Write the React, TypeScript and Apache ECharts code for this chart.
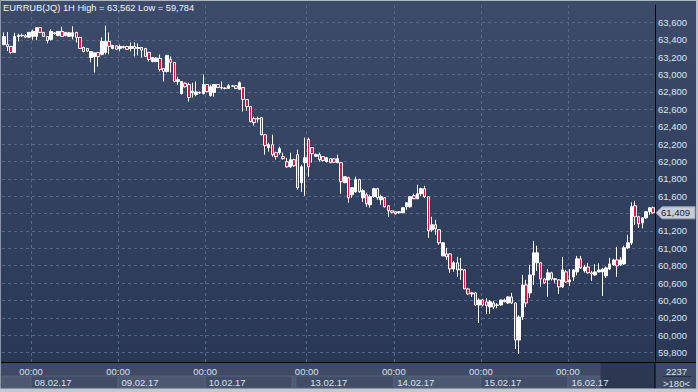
import React, { useEffect, useRef } from 'react';
import * as echarts from 'echarts';

const TITLE = 'EURRUB(JQ) 1H High = 63,562 Low = 59,784';

const sessions = [
  { date: '07.02.17', firstHour: 16, hours: 8 },
  { date: '08.02.17', firstHour: 0, hours: 24 },
  { date: '09.02.17', firstHour: 0, hours: 24 },
  { date: '10.02.17', firstHour: 0, hours: 24 },
  { date: '12.02.17', firstHour: 20, hours: 4 },
  { date: '13.02.17', firstHour: 0, hours: 24 },
  { date: '14.02.17', firstHour: 0, hours: 24 },
  { date: '15.02.17', firstHour: 0, hours: 24 },
  { date: '16.02.17', firstHour: 0, hours: 24 },
];

const categories: string[] = sessions.flatMap((s) =>
  Array.from({ length: s.hours }, (_, h) => `${s.date} ${String(s.firstHour + h).padStart(2, '0')}:00`)
);

// date strip of the time bar (category index ranges)
const dateStrip = [
  { from: 0, to: 8, label: '', light: true },
  { from: 8, to: 32, label: '08.02.17', light: false },
  { from: 32, to: 56, label: '09.02.17', light: true },
  { from: 56, to: 80, label: '10.02.17', light: false },
  { from: 80, to: 81, label: '', light: true },
  { from: 81, to: 108, label: '13.02.17', light: false },
  { from: 108, to: 132, label: '14.02.17', light: true },
  { from: 132, to: 156, label: '15.02.17', light: false },
  { from: 156, to: 165, label: '16.02.17', light: true },
];
const futureFrom = 165;
const barCountText = '2237';
const barRangeText = '>180<';

const opens = [
  63346, 63346, 63323, 63254, 63438, 63450, 63445, 63430, 63440, 63440,
  63540, 63485, 63438, 63404, 63480, 63450, 63496, 63450, 63440, 63440,
  63485, 63427, 63312, 63300, 63196, 63205, 63254, 63231, 63254, 63381,
  63300, 63330, 63300, 63323, 63323, 63300, 63323, 63300, 63312, 63300,
  63254, 63150, 63150, 63185, 63069, 63035, 63173, 63139, 62920, 62781,
  62900, 62885, 62790, 62770, 62795, 62781, 62885, 62760, 62793, 62885,
  62850, 62845, 62840, 62870, 62870, 62830, 62850, 62712, 62631, 62493,
  62490, 62504, 62308, 62159, 62193, 62101, 62101, 62055, 61997, 61939,
  62020, 62078, 61755, 61986, 62251, 62159, 62060, 62078, 62055, 61997,
  62032, 62030, 61986, 61986, 61755, 61813, 61617, 61651, 61790, 61582,
  61617, 61501, 61594, 61686, 61559, 61582, 61490, 61432, 61421, 61410,
  61409, 61478, 61478, 61605, 61571, 61628, 61686, 61594, 61213, 61271,
  61213, 60913, 60936, 60936, 60763, 60833, 60752, 60752, 60533, 60475,
  60487, 60348, 60406, 60385, 60325, 60371, 60348, 60348, 60385, 60371,
  60441, 60371, 59945, 60210, 60579, 60487, 60694, 60833, 60833, 60648,
  60637, 60718, 60650, 60637, 60556, 60729, 60613, 60671, 60729, 60879,
  60740, 60785, 60718, 60694, 60729, 60729, 60683, 60763, 60810, 60867,
  60810, 60821, 61006, 61063, 61490, 61363, 61294, 61351, 61421, 61467,
];
const closes = [
  63438, 63323, 63254, 63438, 63450, 63445, 63430, 63485, 63496, 63540,
  63485, 63438, 63392, 63496, 63470, 63496, 63438, 63485, 63480, 63480,
  63427, 63300, 63265, 63270, 63265, 63250, 63208, 63381, 63381, 63323,
  63335, 63290, 63323, 63310, 63290, 63323, 63300, 63310, 63280, 63208,
  63173, 63196, 63190, 63058, 63035, 63220, 63139, 62920, 62940, 62920,
  62860, 62735, 62810, 62800, 62790, 62885, 62804, 62860, 62885, 62850,
  62845, 62840, 62870, 62865, 62840, 62905, 62712, 62631, 62458, 62447,
  62495, 62308, 62182, 62193, 62078, 62055, 62147, 62032, 61939, 62020,
  61950, 61697, 61939, 62043, 61939, 62089, 62078, 62020, 62010, 62043,
  61986, 61990, 62032, 61767, 61824, 61582, 61697, 61790, 61651, 61663,
  61513, 61594, 61686, 61582, 61594, 61478, 61432, 61415, 61398, 61421,
  61467, 61524, 61594, 61571, 61628, 61686, 61594, 61202, 61271, 61225,
  61063, 61063, 60902, 60763, 60833, 60752, 60760, 60533, 60475, 60487,
  60348, 60406, 60348, 60340, 60385, 60325, 60345, 60406, 60406, 60441,
  60371, 59945, 60210, 60579, 60371, 60694, 60948, 60948, 60648, 60602,
  60718, 60648, 60640, 60556, 60752, 60613, 60637, 60752, 60879, 60775,
  60785, 60718, 60705, 60729, 60752, 60763, 60775, 60821, 60867, 60798,
  60867, 61006, 61063, 61478, 61363, 61282, 61351, 61421, 61467, 61409,
];
const lows = [
  63335, 63270, 63240, 63250, 63380, 63430, 63420, 63420, 63400, 63395,
  63480, 63430, 63358, 63392, 63460, 63440, 63430, 63440, 63435, 63404,
  63369, 63295, 63255, 63260, 63139, 63023, 63090, 63220, 63231, 63231,
  63290, 63280, 63265, 63300, 63285, 63265, 63208, 63220, 63196, 63200,
  63150, 63140, 63140, 63035, 62920, 63023, 63023, 62910, 62880, 62770,
  62850, 62689, 62735, 62750, 62775, 62770, 62795, 62745, 62745, 62845,
  62827, 62830, 62835, 62860, 62835, 62827, 62574, 62585, 62450, 62412,
  62447, 62300, 62078, 62112, 62055, 62020, 62078, 62020, 61925, 61925,
  61940, 61674, 61651, 61605, 61824, 61986, 62050, 61997, 62000, 61990,
  61980, 61980, 61980, 61628, 61750, 61524, 61582, 61640, 61640, 61536,
  61478, 61467, 61582, 61559, 61501, 61470, 61363, 61400, 61390, 61398,
  61405, 61444, 61470, 61565, 61565, 61600, 61582, 61121, 61190, 61155,
  61040, 60910, 60867, 60718, 60730, 60671, 60637, 60530, 60465, 60441,
  60340, 60141, 60330, 60245, 60245, 60300, 60310, 60340, 60380, 60360,
  60360, 59841, 59784, 60175, 60325, 60430, 60579, 60740, 60556, 60595,
  60441, 60630, 60600, 60475, 60545, 60602, 60567, 60625, 60690, 60765,
  60720, 60710, 60625, 60683, 60722, 60452, 60660, 60750, 60800, 60671,
  60800, 60810, 60990, 61040, 61271, 61236, 61230, 61340, 61386, 61398,
];
const highs = [
  63485, 63490, 63330, 63480, 63470, 63470, 63465, 63490, 63519, 63545,
  63545, 63490, 63440, 63519, 63490, 63500, 63550, 63490, 63490, 63555,
  63490, 63430, 63320, 63305, 63270, 63255, 63260, 63427, 63562, 63485,
  63340, 63335, 63346, 63330, 63330, 63369, 63369, 63358, 63315, 63305,
  63260, 63200, 63200, 63231, 63075, 63225, 63208, 63145, 62975, 62925,
  62910, 62905, 62905, 62920, 62805, 63000, 62890, 62885, 62890, 62890,
  62920, 62850, 62890, 62880, 62875, 62920, 62855, 62715, 62640, 62515,
  62515, 62510, 62310, 62216, 62308, 62112, 62170, 62101, 62043, 62101,
  62030, 62135, 61962, 62274, 62274, 62165, 62090, 62101, 62060, 62050,
  62040, 62035, 62078, 61990, 61830, 61824, 61705, 61824, 61800, 61686,
  61640, 61617, 61697, 61697, 61617, 61590, 61495, 61440, 61425, 61428,
  61470, 61530, 61600, 61628, 61732, 61697, 61720, 61600, 61363, 61328,
  61215, 61070, 61006, 60940, 60855, 60902, 60890, 60760, 60545, 60500,
  60500, 60425, 60420, 60425, 60406, 60395, 60370, 60410, 60420, 60450,
  60487, 60380, 60230, 60694, 60637, 60810, 61086, 61030, 60845, 60660,
  60763, 60730, 60660, 60645, 60902, 60752, 60763, 60760, 60913, 60913,
  60810, 60833, 60740, 60817, 60827, 60775, 60790, 60890, 60880, 61018,
  60900, 61030, 61155, 61530, 61548, 61375, 61360, 61430, 61475, 61480,
];

const FONT = '"Liberation Sans", Arial, Helvetica, sans-serif';
const W = 698;
const H = 392;
const GRID_LEFT = 2;
const GRID_RIGHT = 43;
const GRID_TOP = 5;
const GRID_BOTTOM = 22;
const BAND_TOP = 362;
const Y_MIN = 59600;
const Y_MAX = 63800;
const Y_STEP = 200;

const fmt = (v: number) => Number(v).toLocaleString('en-US');

export default function App() {
  const ref = useRef<HTMLDivElement>(null);
  useEffect(() => {
    const el = ref.current;
    if (!el) return;
    const chart = echarts.init(el, null, { renderer: 'svg' });
    const ohlc = opens.map((o, i) => [o, closes[i], lows[i], highs[i]]);
    const isMidnight = (i: number) => categories[i].endsWith(' 00:00');
    const lastPrice = closes[closes.length - 1];

    chart.setOption({
      animation: false,
      backgroundColor: new echarts.graphic.LinearGradient(0, 0, 0, 1, [
        { offset: 0, color: '#3d4b6b' },
        { offset: 0.92, color: '#2a3856' },
        { offset: 1, color: '#283552' },
      ]),
      title: {
        text: TITLE,
        left: 3,
        top: 3,
        padding: 0,
        textStyle: { color: '#f2f5fa', fontSize: 9.3, fontWeight: 'normal', fontFamily: FONT },
      },
      grid: { left: GRID_LEFT, right: GRID_RIGHT, top: GRID_TOP, bottom: GRID_BOTTOM },
      xAxis: {
        type: 'category',
        data: categories,
        boundaryGap: true,
        axisLine: { show: false },
        axisTick: { show: false },
        axisLabel: { show: false },
        splitLine: {
          show: true,
          interval: (i: number) => isMidnight(i),
          lineStyle: { color: '#56658a', width: 1, type: [3, 3] },
        },
      },
      yAxis: {
        type: 'value',
        position: 'right',
        min: Y_MIN,
        max: Y_MAX,
        interval: Y_STEP,
        axisLine: { show: true, lineStyle: { color: '#000000', width: 1 } },
        axisTick: { show: false },
        axisLabel: {
          color: '#dde4f0',
          fontSize: 9.5,
          fontFamily: FONT,
          margin: 3,
          // the label hidden under the last-price tag is not drawn
          formatter: (v: number) =>
            v <= Y_MIN || v >= Y_MAX || Math.abs(v - lastPrice) < Y_STEP / 2 ? '' : fmt(v),
        },
        splitLine: {
          show: true,
          showMinLine: false,
          showMaxLine: false,
          lineStyle: { color: '#56658a', width: 1, type: [3, 3] },
        },
      },
      series: [
        {
          type: 'candlestick',
          data: ohlc,
          barWidth: 3,
          itemStyle: {
            color: '#ffffff',
            color0: '#e3123e',
            borderColor: '#ffffff',
            borderColor0: '#ffffff',
            borderWidth: 1,
          },
        },
      ],
    });

    const bw = (W - GRID_LEFT - GRID_RIGHT) / categories.length;
    const xAt = (i: number) => GRID_LEFT + i * bw;
    const axisX = W - GRID_RIGHT;
    const py = chart.convertToPixel({ yAxisIndex: 0 }, lastPrice) as number;

    const g: any[] = [];
    // time bar background
    g.push({ type: 'rect', z: 100, shape: { x: 0, y: BAND_TOP, width: W, height: H - BAND_TOP }, style: { fill: '#3f4a64' } });
    // date boxes
    dateStrip.forEach((d) => {
      g.push({
        type: 'rect', z: 101,
        shape: { x: xAt(d.from), y: 376, width: xAt(d.to) - xAt(d.from), height: 12 },
        style: { fill: d.light ? '#4c5771' : '#414c66', stroke: '#56627c', lineWidth: 1 },
      });
    });
    // future (dark) area
    g.push({ type: 'rect', z: 102, shape: { x: xAt(futureFrom), y: BAND_TOP, width: axisX - xAt(futureFrom), height: 388 - BAND_TOP }, style: { fill: '#2c3752' } });
    // 00:00 labels and date labels
    categories.forEach((c, i) => {
      if (!isMidnight(i)) return;
      const x = xAt(i);
      g.push({ type: 'text', z: 103, x, y: 371.5, style: { text: '00:00', fill: '#d9e2f0', font: `9.5px ${FONT}`, align: 'center', verticalAlign: 'middle' } });
      const date = c.split(' ')[0];
      g.push({ type: 'text', z: 103, x: x + 3.5, y: 382, style: { text: date, fill: '#d9e2f0', font: `9.5px ${FONT}`, align: 'left', verticalAlign: 'middle' } });
    });
    // borders
    g.push({ type: 'rect', z: 104, shape: { x: 0, y: BAND_TOP, width: W, height: 1 }, style: { fill: '#000000' } });
    g.push({ type: 'rect', z: 104, shape: { x: axisX - 0.5, y: BAND_TOP, width: 1, height: H - BAND_TOP }, style: { fill: '#000000' } });
    // right info box
    g.push({ type: 'text', z: 103, x: (axisX + W) / 2, y: 371.5, style: { text: barCountText, fill: '#d9e2f0', font: `9.5px ${FONT}`, align: 'center', verticalAlign: 'middle' } });
    g.push({ type: 'rect', z: 103, shape: { x: axisX + 8, y: 376, width: 28, height: 1 }, style: { fill: '#252f45' } });
    g.push({ type: 'text', z: 103, x: (axisX + W) / 2, y: 383, style: { text: barRangeText, fill: '#d9e2f0', font: `9.5px ${FONT}`, align: 'center', verticalAlign: 'middle' } });
    // last price tag
    g.push({
      type: 'polygon', z: 105,
      shape: { points: [[axisX + 1, py], [axisX + 7, py - 6], [W - 3, py - 6], [W - 3, py + 6], [axisX + 7, py + 6]] },
      style: { fill: '#c7ccd5', stroke: '#9aa2b1', lineWidth: 1 },
    });
    g.push({ type: 'text', z: 106, x: axisX + 6, y: py, style: { text: fmt(lastPrice), fill: '#1e2636', font: `9.5px ${FONT}`, align: 'left', verticalAlign: 'middle' } });
    // outer frame
    g.push({ type: 'rect', z: 110, shape: { x: 0, y: 0, width: W, height: 1 }, style: { fill: '#aeb5c2' } });
    g.push({ type: 'rect', z: 110, shape: { x: 0, y: 0, width: 1, height: H }, style: { fill: '#8c95a6' } });
    g.push({ type: 'rect', z: 110, shape: { x: W - 2, y: 0, width: 2, height: H }, style: { fill: '#b9bfca' } });
    g.push({ type: 'rect', z: 110, shape: { x: 0, y: 388.5, width: W, height: H - 388.5 }, style: { fill: '#c3c8d1' } });

    chart.setOption({ graphic: g });

    return () => chart.dispose();
  }, []);

  return <div ref={ref} style={{ position: 'fixed', left: 0, top: 0, width: W, height: H }} />;
}
